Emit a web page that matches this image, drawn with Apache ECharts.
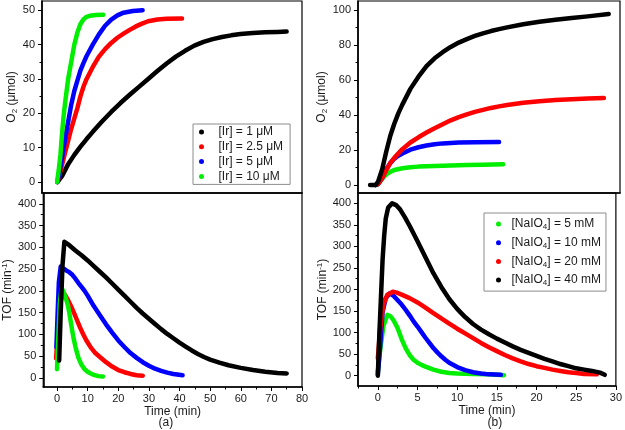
<!DOCTYPE html>
<html><head><meta charset="utf-8">
<script src="https://cdn.jsdelivr.net/npm/echarts@6/dist/echarts.min.js"></script>
<style>html,body{margin:0;padding:0;background:#fff}#c{width:625px;height:430px}</style>
</head><body><div id="c"></div>
<script>
// ---------- DATA ----------
// (a) O2 (µmol) vs time (min), by [Ir]
const a_O2_1uM = [[0.5,0],[2,1.7],[4,5.2],[6,7.9],[8,10.3],[10,12.5],[12,14.6],[15,17.6],[18,20.4],[21,23],[24,25.4],[27,27.7],[30,30],[33,32.3],[36,34.5],[39,36.5],[42,38.2],[45,39.7],[48,40.8],[51,41.6],[54,42.2],[57,42.7],[60,43.1],[64,43.4],[68,43.6],[72,43.7],[75,43.8]];
const a_O2_2_5uM = [[0.5,0],[1,1.5],[2,5],[3,8.5],[4,12],[5,15.5],[6,18.5],[7,21.5],[8,25],[9,27.8],[10,30],[12,33.5],[14,36.5],[16,38.7],[18,40.5],[20,42],[22,43.2],[24,44.3],[26,45.3],[28,46.1],[30,46.8],[33,47.3],[36,47.5],[41,47.6]];
const a_O2_5uM = [[0.5,0],[1,2],[2,7],[3,12.5],[4,17.5],[5,22.5],[6,26.5],[7,29.5],[8,32.5],[9,34.7],[10,36.7],[12,40],[14,43],[16,45.5],[18,47.3],[20,48.5],[22,49.3],[25,49.8],[28.2,50]];
const a_O2_10uM = [[0.4,0],[1,4],[1.5,8],[2,14],[2.5,19],[3,23],[4,30],[5,35],[6,40],[7,43.5],[8,46],[9,47.4],[10,48.1],[11,48.4],[13,48.6],[15.4,48.7]];
// (a) TOF (min^-1) vs time (min)
const a_TOF_1uM = [[0.7,40],[1.2,150],[1.8,260],[2.4,313],[4,305],[6,293],[8,282],[10,270],[12,257],[14,244],[16,231],[18,217],[20,203],[22,189],[24,175],[26,161],[28,148],[30,136],[32,124],[34,112],[36,101],[38,91],[40,81],[42,72],[44,63],[46,55],[48,48],[50,42],[53,35],[56,29],[60,23],[64,18],[68,14],[72,11],[75,10]];
const a_TOF_2_5uM = [[-0.3,45],[0.3,110],[1,170],[1.8,195],[2.5,192],[3.5,180],[4.5,166],[5.5,150],[6.5,133],[7.5,116],[8.5,101],[9.5,87],[11,70],[12.5,57],[14,48],[16,36],[18,26],[20,18],[22,13],[24,9],[26,6],[28,5]];
const a_TOF_5uM = [[-0.2,70],[0.2,150],[0.6,220],[1.2,256],[2,252],[3,247],[4,243],[5,237],[6,228],[7,218],[8,209],[9,200],[10,189],[12,165],[14,144],[16,123],[18,104],[20,86],[22,71],[24,57],[26,46],[28,36],[30,28],[32,21],[34,16],[36,12],[38,9],[41,6]];
const a_TOF_10uM = [[0,20],[0.4,90],[0.9,170],[1.5,206],[2,200],[2.5,190],[3,180],[3.5,168],[4,150],[4.5,128],[5,107],[5.5,88],[6,72],[6.5,58],[7,46],[8,30],[9,20],[10,14],[11,10],[12,7],[13.5,4],[15,3]];
// (b) O2 (µmol) vs time (min), by [NaIO4]
const b_O2_5mM = [[-0.3,0],[0,0.5],[0.5,3.5],[1,6],[1.5,7.5],[2,8.6],[3,9.6],[4,10.1],[5,10.5],[7,10.9],[9,11.2],[11,11.4],[13,11.6],[15.5,11.8]];
const b_O2_10mM = [[-0.3,0],[0,0.5],[0.5,4],[1,9],[1.5,12.5],[2,15],[2.5,16.7],[3,18],[4,20.2],[5,21.6],[6,22.6],[7,23.3],[8,23.8],[10,24.3],[12,24.5],[15,24.6]];
const b_O2_20mM = [[-0.3,0],[0,0.5],[0.5,4],[1,8.5],[1.5,12.5],[2,15.5],[3,20.5],[4,24.3],[5,27.3],[6,30],[7,32.5],[8,34.8],[9,37],[10,38.8],[11,40.4],[12,41.8],[13,43],[14,44.1],[15,45],[16,45.8],[18,47],[20,47.9],[22,48.6],[24,49.1],[26,49.5],[28,49.8]];
const b_O2_40mM = [[-1,0],[-0.3,0],[0,2],[0.5,9],[1,19],[1.5,28],[2,35],[2.5,41],[3,46],[4,55],[5,62],[6,68],[7,72.5],[8,76],[9,79],[10,81.5],[11,83.5],[12,85.3],[13,86.8],[14,88.1],[15,89.2],[16,90.2],[18,92],[20,93.4],[22,94.6],[24,95.6],[26,96.5],[28.6,97.8]];
// (b) TOF (min^-1) vs time (min)
const b_TOF_5mM = [[0,10],[0.3,60],[0.7,115],[1.2,141],[1.6,138],[2,128],[2.5,110],[3,85],[3.5,64],[4,48],[4.5,37],[5,30],[5.5,25],[6,21],[7,14],[8,9],[9,6],[10,5],[12,4],[14,3],[15.9,1]];
const b_TOF_10mM = [[0,3],[0.3,70],[0.6,148],[1,180],[1.5,191],[2,185],[2.5,175],[3,165],[3.5,153],[4,140],[4.5,126],[5,114],[5.5,101],[6,88],[6.5,76],[7,64],[7.5,54],[8,45],[8.5,37],[9,30],[10,20],[11,13],[12,8],[13,5],[14,3],[15.5,2]];
const b_TOF_20mM = [[0,40],[0.3,110],[0.7,165],[1.2,188],[1.9,195],[2.5,192],[3,188],[4,180],[5,170],[6,158],[7,145],[8,133],[9,121],[10,109],[11,98],[12,87],[13,76],[14,66],[15,57],[16,48],[17,40],[18,33],[19,27],[20,22],[21,18],[22,14],[23,11],[24,8],[25,6],[26,4],[27.6,3]];
const b_TOF_40mM = [[0,0],[0.2,100],[0.4,185],[0.6,270],[0.8,325],[1,365],[1.3,390],[1.8,400],[2.3,396],[2.8,386],[3.4,368],[4,348],[5,312],[6,275],[7,238],[8,206],[9,178],[10,155],[11,136],[12,120],[13,107],[14,96],[15,86],[16,77],[17,68],[18,60],[19,53],[20,46],[21,39],[22,33],[23,27],[24,22],[25,17],[26,14],[27,11],[28,7],[28.6,2]];

// legend names
const aNames = ['[Ir] = 1 \u03bcM','[Ir] = 2.5 \u03bcM','[Ir] = 5 \u03bcM','[Ir] = 10 \u03bcM'];
const bNames = ['[NaIO4] = 5 mM','[NaIO4] = 10 mM','[NaIO4] = 20 mM','[NaIO4] = 40 mM'];

// tick values
const xA_major = [0,10,20,30,40,50,60,70,80];
const xA_minor = [5,15,25,35,45,55,65,75];
const xB_major = [0,5,10,15,20,25,30];
const xB_minor = [-2.5,2.5,7.5,12.5,17.5,22.5,27.5];
const yA_O2_major = [0,10,20,30,40,50];
const yA_O2_minor = [5,15,25,35,45];
const yB_O2_major = [0,20,40,60,80,100];
const yB_O2_minor = [10,30,50,70,90];
const yTOF_major = [0,50,100,150,200,250,300,350,400];
const yTOF_minor = [25,75,125,175,225,275,325,375];

// ---------- CHART ----------
const FONT = 'Arial, "Liberation Sans", sans-serif';
const TXT = '#1a1a1a';
const C = {black:'#000000', red:'#ff0000', blue:'#0000ff', green:'#00ee00'};
const rich = {
  a:{fontSize:12, fontFamily:FONT, color:TXT, lineHeight:14},
  s:{fontSize:8, fontFamily:FONT, color:TXT, verticalAlign:'bottom', lineHeight:10, padding:[4,0,0,0]},
  p:{fontSize:8, fontFamily:FONT, color:TXT, verticalAlign:'top', lineHeight:10, padding:[0,0,4,0]}
};

const grids = [
  {left:42, top:1, width:260, height:192},
  {left:42, top:193, width:260, height:194},
  {left:358, top:1, width:262, height:192},
  {left:358, top:193, width:262, height:193}
];
grids.forEach(g=>{g.show=true; g.borderColor='#000'; g.borderWidth=1.2; g.containLabel=false;});

function mainX(gi, min, max, major, showLabels, name){
  return {type:'value', gridIndex:gi, min, max, position:'bottom',
    axisLine:{show:true, onZero:false, lineStyle:{color:'#000', width:1.6}},
    axisTick:{show:showLabels, customValues:major, length:4, lineStyle:{color:'#000', width:1}},
    axisLabel:{show:showLabels, customValues:major, margin:6, fontSize:11, color:TXT, fontFamily:FONT},
    splitLine:{show:false},
    name: name||'', nameLocation:'middle', nameGap:19, nameTextStyle:{fontSize:12, color:TXT, fontFamily:FONT}};
}
function minorX(gi, min, max, minor){
  return {type:'value', gridIndex:gi, min, max, position:'bottom',
    axisLine:{show:false, onZero:false}, axisTick:{show:true, customValues:minor, length:2.5, lineStyle:{color:'#000'}},
    axisLabel:{show:false}, splitLine:{show:false}};
}
function mainY(gi, min, max, major, name, gap){
  return {type:'value', gridIndex:gi, min, max, position:'left',
    axisLine:{show:true, onZero:false, lineStyle:{color:'#000', width:1.6}},
    axisTick:{show:true, customValues:major, length:4, lineStyle:{color:'#000'}},
    axisLabel:{customValues:major, margin:7, fontSize:11, color:TXT, fontFamily:FONT},
    splitLine:{show:false},
    name, nameLocation:'middle', nameRotate:90, nameGap:gap,
    nameTextStyle:{rich, fontSize:12, color:TXT, fontFamily:FONT}};
}
function minorY(gi, min, max, minor){
  return {type:'value', gridIndex:gi, min, max, position:'left',
    axisLine:{show:false, onZero:false}, axisTick:{show:true, customValues:minor, length:2.5, lineStyle:{color:'#000'}},
    axisLabel:{show:false}, splitLine:{show:false}};
}

const xAxis = [
  mainX(0, -4.5, 80, xA_major, false),            // 0
  mainX(1, -4.5, 80, xA_major, true, 'Time (min)'), // 1
  minorX(1, -4.5, 80, xA_minor),                   // 2
  mainX(2, -2.5, 30, xB_major, false),            // 3
  mainX(3, -2.5, 30, xB_major, true, 'Time (min)'), // 4
  minorX(3, -2.5, 30, xB_minor)                    // 5
];
const O2name = '{a|O}{s|2}{a| (\u03bcmol)}';
const TOFname = '{a|TOF (min}{p|-1}{a|)}';
const yAxis = [
  mainY(0, -3.2, 52.7, yA_O2_major, O2name, 20),   // 0
  minorY(0, -3.2, 52.7, yA_O2_minor),              // 1
  mainY(1, -21, 425, yTOF_major, TOFname, 24),     // 2
  minorY(1, -21, 425, yTOF_minor),                 // 3
  mainY(2, -4.6, 105.3, yB_O2_major, O2name, 20),  // 4
  minorY(2, -4.6, 105.3, yB_O2_minor),             // 5
  mainY(3, -24, 424, yTOF_major, TOFname, 24),     // 6
  minorY(3, -24, 424, yTOF_minor)                  // 7
];

function ser(name, data, color, xi, yi){
  return {type:'line', name, data, xAxisIndex:xi, yAxisIndex:yi, showSymbol:false, symbol:'circle', symbolSize:5,
    smooth:false, silent:true, animation:false,
    itemStyle:{color}, lineStyle:{color, width:4.5, cap:'round', join:'round'}};
}
const series = [
  ser(aNames[0], a_O2_1uM, C.black, 0, 0),
  ser(aNames[1], a_O2_2_5uM, C.red, 0, 0),
  ser(aNames[2], a_O2_5uM, C.blue, 0, 0),
  ser(aNames[3], a_O2_10uM, C.green, 0, 0),
  ser(aNames[1], a_TOF_2_5uM, C.red, 1, 2),
  ser(aNames[2], a_TOF_5uM, C.blue, 1, 2),
  ser(aNames[3], a_TOF_10uM, C.green, 1, 2),
  ser(aNames[0], a_TOF_1uM, C.black, 1, 2),
  ser(bNames[0], b_O2_5mM, C.green, 3, 4),
  ser(bNames[1], b_O2_10mM, C.blue, 3, 4),
  ser(bNames[2], b_O2_20mM, C.red, 3, 4),
  ser(bNames[3], b_O2_40mM, C.black, 3, 4),
  ser(bNames[0], b_TOF_5mM, C.green, 4, 6),
  ser(bNames[1], b_TOF_10mM, C.blue, 4, 6),
  ser(bNames[2], b_TOF_20mM, C.red, 4, 6),
  ser(bNames[3], b_TOF_40mM, C.black, 4, 6)
];

const legendBase = {orient:'vertical', icon:'circle', itemHeight:5, borderColor:'#8c8c8c', borderWidth:1,
  backgroundColor:'#fff', selectedMode:false, inactiveColor:'#000'};
const legend = [
  Object.assign({}, legendBase, {data:aNames, left:193, top:124, itemWidth:24, itemGap:2.8,
    padding:[2,7,2,6], textStyle:{fontSize:12, color:TXT, fontFamily:FONT, lineHeight:12}}),
  Object.assign({}, legendBase, {data:bNames, left:484, top:213, itemWidth:16, itemGap:4.7,
    padding:[4,5,4,12],
    formatter: n => '{a|[NaIO}{s|4}{a|' + n.slice(6) + '}',
    textStyle:{fontSize:12, color:TXT, fontFamily:FONT, lineHeight:14,
      rich:{a:{fontSize:12, fontFamily:FONT, color:TXT, lineHeight:14},
            s:{fontSize:8, fontFamily:FONT, color:TXT, verticalAlign:'bottom', lineHeight:10, padding:[4,0,0,0]}}}})
];

const chart = echarts.init(document.getElementById('c'), null, {renderer:'canvas'});
chart.setOption({
  animation:false,
  backgroundColor:'#fff',
  textStyle:{fontFamily:FONT},
  title:[
    {text:'(a)', left:158.5, top:417, padding:0, textStyle:{fontSize:12, fontWeight:'normal', color:TXT, fontFamily:FONT}},
    {text:'(b)', left:487.5, top:417, padding:0, textStyle:{fontSize:12, fontWeight:'normal', color:TXT, fontFamily:FONT}}
  ],
  grid:grids, xAxis, yAxis, legend, series
});
</script></body></html>
